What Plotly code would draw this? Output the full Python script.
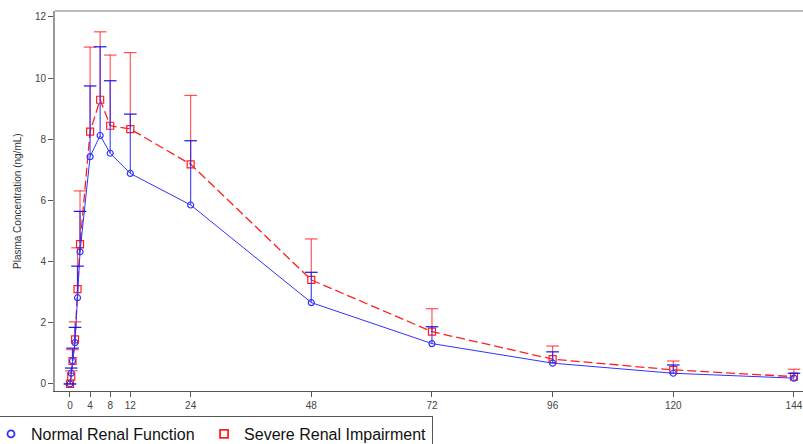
import plotly.graph_objects as go

# ---- data ----
time_h = [0, 0.25, 0.5, 1, 1.5, 2, 4, 6, 8, 12, 24, 48, 72, 96, 120, 144]
normal_mean = [0, 0.35, 0.75, 1.35, 2.82, 4.32, 7.43, 8.12, 7.54, 6.88, 5.85, 2.66, 1.32, 0.68, 0.35, 0.19]
normal_sd = [0, 0.17, 0.42, 0.50, 1.03, 1.32, 2.31, 2.90, 2.37, 1.94, 2.10, 0.99, 0.55, 0.37, 0.27, 0.16]
severe_mean = [0, 0.24, 0.75, 1.46, 3.10, 4.57, 8.25, 9.29, 8.44, 8.33, 7.18, 3.40, 1.71, 0.81, 0.46, 0.24]
severe_sd = [0, 0.19, 0.37, 0.57, 1.35, 1.74, 2.76, 2.22, 2.31, 2.50, 2.25, 1.34, 0.75, 0.43, 0.29, 0.24]
x_ticks = [0, 4, 8, 12, 24, 48, 72, 96, 120, 144]
y_ticks = [0, 2, 4, 6, 8, 10, 12]
names = ["Normal Renal Function", "Severe Renal Impairment"]

BLUE = "rgb(50,50,255)"
BLUE_ERR = "rgba(30,30,255,0.8)"
BLUE_CAP = "rgb(20,20,230)"
RED = "rgb(255,30,30)"
RED_ERR = "rgba(255,20,20,0.7)"
RED_CAP = "rgba(255,20,20,0.75)"

fig = go.Figure()

def add_group(t, mean, sd, name, color, errcolor, capcolor, dash, symbol, msize, rank, lw, pad):
    zeros = [0] * len(t)
    fig.add_trace(go.Scatter(
        x=t, y=mean, mode="lines+markers", name=name, showlegend=False,
        line=dict(color=color, width=lw, dash=dash),
        marker=dict(symbol=symbol, size=msize, color=color,
                    line=dict(color=color, width=1.2)),
        error_y=dict(type="data", symmetric=False, array=sd, arrayminus=zeros,
                     color=errcolor, thickness=1.2, width=0),
    ))
    # caps at top of error bars
    fig.add_trace(go.Scatter(
        x=t, y=[m + s for m, s in zip(mean, sd)], mode="markers",
        showlegend=False, hoverinfo="skip",
        marker=dict(symbol="line-ew-open", size=9, color=capcolor,
                    line=dict(color=capcolor, width=1.2)),
    ))
    # legend entry: marker only
    fig.add_trace(go.Scatter(
        x=[None], y=[None], mode="markers", name=name + pad, legendrank=rank,
        marker=dict(symbol=symbol, size=msize + 1, color=color,
                    line=dict(color=color, width=1.8)),
    ))

add_group(time_h, severe_mean, severe_sd, names[1], RED, RED_ERR, RED_CAP, "9px,4px",
          "square-open", 7, 2, 1.3, "")
add_group(time_h, normal_mean, normal_sd, names[0], BLUE, BLUE_ERR, BLUE_CAP, "solid",
          "circle-open", 6, 1, 1, "\u00a0")

fig.update_layout(
    width=803, height=444,
    margin=dict(l=55, r=0, t=11, b=53, autoexpand=False),
    paper_bgcolor="white", plot_bgcolor="white",
    font=dict(family="Liberation Sans, Arial, sans-serif", color="#333"),
    showlegend=True,
    legend=dict(
        orientation="h", x=-0.0869, xanchor="left", y=-0.0658, yanchor="top",
        font=dict(size=16, color="#111"),
        bordercolor="#555", borderwidth=1, bgcolor="white",
    ),
    xaxis=dict(
        range=[-2.98, 145.8], tickvals=x_ticks, ticktext=[str(v) for v in x_ticks],
        showline=True, linecolor="#555", linewidth=1,
        ticks="outside", ticklen=5, tickcolor="#555", tickwidth=1,
        showgrid=False, zeroline=False, tickfont=dict(size=10, color="#444"),
    ),
    yaxis=dict(
        range=[-0.23, 12.19], tickvals=y_ticks, ticktext=[str(v) for v in y_ticks],
        showline=True, linecolor="#999", linewidth=2,
        ticks="outside", ticklen=5, tickcolor="#555", tickwidth=1,
        showgrid=False, zeroline=False, tickfont=dict(size=10, color="#444"),
    ),
    shapes=[dict(type="line", xref="paper", yref="paper", x0=0, x1=1, y0=1, y1=1,
                 line=dict(color="#bbb", width=2))],
    annotations=[dict(text="Plasma Concentration (ng/mL)", xref="paper", yref="paper",
                      x=-0.0508, y=0.5, xanchor="center", yanchor="middle",
                      textangle=-90, showarrow=False,
                      font=dict(size=10, color="#333"))],
)

fig.write_html("out.html")
